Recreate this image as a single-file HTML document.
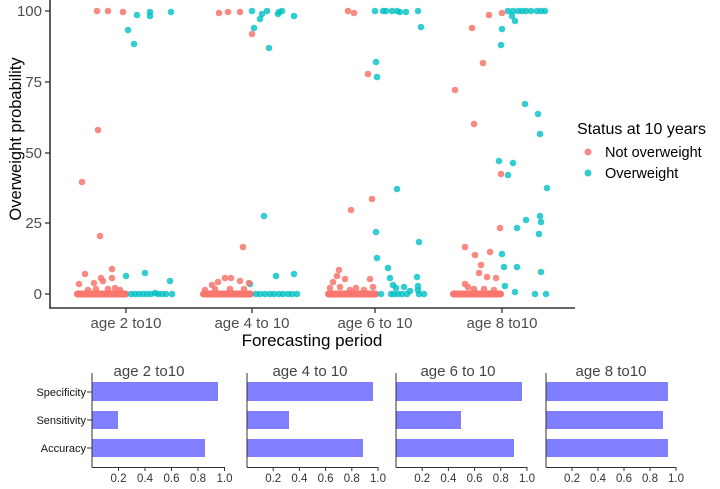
<!DOCTYPE html>
<html><head><meta charset="utf-8"><style>
html,body{margin:0;padding:0;background:#fff;}
svg{display:block;font-family:"Liberation Sans",Arial,sans-serif;}
</style></head><body>
<svg width="720" height="489" viewBox="0 0 720 489" xmlns="http://www.w3.org/2000/svg">
<!-- top axes -->
<line x1="50" y1="0" x2="50" y2="308.5" stroke="#333" stroke-width="1.6"/>
<line x1="49.2" y1="308" x2="575" y2="308" stroke="#333" stroke-width="1.6"/>
<g stroke="#333" stroke-width="1.3">
<line x1="45" y1="11" x2="50" y2="11"/><line x1="45" y1="82" x2="50" y2="82"/><line x1="45" y1="153" x2="50" y2="153"/><line x1="45" y1="223" x2="50" y2="223"/><line x1="45" y1="294" x2="50" y2="294"/>
<line x1="126" y1="308" x2="126" y2="313"/><line x1="252" y1="308" x2="252" y2="313"/><line x1="375" y1="308" x2="375" y2="313"/><line x1="502" y1="308" x2="502" y2="313"/>
</g>
<g fill="#4d4d4d" font-size="15" text-anchor="end">
<text x="42" y="16">100</text><text x="42" y="87">75</text><text x="42" y="158">50</text><text x="42" y="228">25</text><text x="42" y="299">0</text>
</g>
<g fill="#4d4d4d" font-size="15" text-anchor="middle">
<text x="126" y="328">age 2 to10</text><text x="252" y="328">age 4 to 10</text><text x="375" y="328">age 6 to 10</text><text x="502" y="328">age 8 to10</text>
</g>
<text x="312" y="346" font-size="17" text-anchor="middle" fill="#000">Forecasting period</text>
<text transform="translate(21,139) rotate(-90)" font-size="16.5" text-anchor="middle" fill="#000">Overweight probability</text>

<!-- red clusters -->
<g fill="#F8766D">
<rect x="74" y="290.5" width="55" height="7" rx="3.5"/>
<rect x="200" y="290.5" width="54" height="7" rx="3.5"/>
<rect x="325" y="290.5" width="54" height="7" rx="3.5"/>
<rect x="450" y="290.5" width="54" height="7" rx="3.5"/>
</g>
<!-- teal points -->
<g fill="#00BFC4" fill-opacity="0.8">
<circle cx="128" cy="30" r="3.3"/><circle cx="134" cy="44" r="3.3"/><circle cx="137" cy="15" r="3.3"/><circle cx="150" cy="12" r="3.3"/><circle cx="150" cy="16" r="3.3"/><circle cx="171" cy="12" r="3.3"/><circle cx="126" cy="276" r="3.3"/><circle cx="145" cy="273" r="3.3"/><circle cx="170" cy="281" r="3.3"/>
<circle cx="131" cy="294" r="3.3"/><circle cx="135" cy="294" r="3.3"/><circle cx="139" cy="294" r="3.3"/><circle cx="143" cy="294" r="3.3"/><circle cx="147" cy="294" r="3.3"/><circle cx="151" cy="294" r="3.3"/><circle cx="155" cy="293" r="3.3"/><circle cx="158" cy="294" r="3.3"/><circle cx="162" cy="294" r="3.3"/><circle cx="166" cy="294" r="3.3"/><circle cx="172" cy="294" r="3.3"/>
<circle cx="252" cy="11" r="3.3"/><circle cx="254" cy="28" r="3.3"/><circle cx="260" cy="19" r="3.3"/><circle cx="262" cy="14" r="3.3"/><circle cx="267" cy="11" r="3.3"/><circle cx="269" cy="48" r="3.3"/><circle cx="278" cy="14" r="3.3"/><circle cx="279" cy="12" r="3.3"/><circle cx="282" cy="11" r="3.3"/><circle cx="294" cy="16" r="3.3"/><circle cx="264" cy="216" r="3.3"/><circle cx="276" cy="276" r="3.3"/><circle cx="294" cy="274" r="3.3"/><circle cx="250" cy="284" r="3.3"/>
<circle cx="256" cy="294" r="3.3"/><circle cx="260" cy="294" r="3.3"/><circle cx="265" cy="294" r="3.3"/><circle cx="270" cy="294" r="3.3"/><circle cx="274" cy="294" r="3.3"/><circle cx="279" cy="294" r="3.3"/><circle cx="283" cy="294" r="3.3"/><circle cx="288" cy="294" r="3.3"/><circle cx="292" cy="294" r="3.3"/><circle cx="297" cy="294" r="3.3"/>
<circle cx="375" cy="11" r="3.3"/><circle cx="383" cy="11" r="3.3"/><circle cx="386" cy="11" r="3.3"/><circle cx="392" cy="11" r="3.3"/><circle cx="397" cy="11" r="3.3"/><circle cx="400" cy="12" r="3.3"/><circle cx="406" cy="12" r="3.3"/><circle cx="418" cy="11" r="3.3"/><circle cx="421" cy="27" r="3.3"/><circle cx="376" cy="62" r="3.3"/><circle cx="377" cy="77" r="3.3"/><circle cx="397" cy="189" r="3.3"/><circle cx="376" cy="232" r="3.3"/><circle cx="419" cy="242" r="3.3"/><circle cx="377" cy="258" r="3.3"/><circle cx="388" cy="268" r="3.3"/><circle cx="390" cy="278" r="3.3"/><circle cx="417" cy="277" r="3.3"/><circle cx="393" cy="285" r="3.3"/><circle cx="396" cy="288" r="3.3"/><circle cx="404" cy="287" r="3.3"/><circle cx="410" cy="291" r="3.3"/><circle cx="418" cy="290" r="3.3"/><circle cx="418" cy="286" r="3.3"/>
<circle cx="381" cy="294" r="3.3"/><circle cx="391" cy="294" r="3.3"/><circle cx="394" cy="294" r="3.3"/><circle cx="398" cy="294" r="3.3"/><circle cx="402" cy="294" r="3.3"/><circle cx="407" cy="294" r="3.3"/><circle cx="419" cy="294" r="3.3"/><circle cx="424" cy="294" r="3.3"/>
<circle cx="508" cy="11" r="3.3"/><circle cx="513" cy="11" r="3.3"/><circle cx="518" cy="11" r="3.3"/><circle cx="522" cy="11" r="3.3"/><circle cx="526" cy="11" r="3.3"/><circle cx="531" cy="11" r="3.3"/><circle cx="537" cy="11" r="3.3"/><circle cx="541" cy="11" r="3.3"/><circle cx="545" cy="11" r="3.3"/><circle cx="512" cy="16" r="3.3"/><circle cx="515" cy="21" r="3.3"/><circle cx="502" cy="29" r="3.3"/><circle cx="501" cy="45" r="3.3"/><circle cx="525" cy="104" r="3.3"/><circle cx="538" cy="114" r="3.3"/><circle cx="540" cy="134" r="3.3"/><circle cx="499" cy="161" r="3.3"/><circle cx="513" cy="163" r="3.3"/><circle cx="508" cy="175" r="3.3"/><circle cx="547" cy="188" r="3.3"/><circle cx="540" cy="216" r="3.3"/><circle cx="541" cy="222" r="3.3"/><circle cx="526" cy="220" r="3.3"/><circle cx="517" cy="228" r="3.3"/><circle cx="539" cy="234" r="3.3"/><circle cx="502" cy="254" r="3.3"/><circle cx="504" cy="267" r="3.3"/><circle cx="517" cy="267" r="3.3"/><circle cx="541" cy="272" r="3.3"/><circle cx="505" cy="286" r="3.3"/><circle cx="515" cy="292" r="3.3"/><circle cx="535" cy="294" r="3.3"/><circle cx="546" cy="294" r="3.3"/>
</g>
<!-- red points -->
<g fill="#F8766D" fill-opacity="0.85">
<circle cx="97" cy="11" r="3.3"/><circle cx="108" cy="11" r="3.3"/><circle cx="123" cy="12" r="3.3"/><circle cx="98" cy="130" r="3.3"/><circle cx="82" cy="182" r="3.3"/><circle cx="100" cy="236" r="3.3"/><circle cx="79" cy="284" r="3.3"/><circle cx="85" cy="274" r="3.3"/><circle cx="94" cy="283" r="3.3"/><circle cx="101" cy="278" r="3.3"/><circle cx="103" cy="281" r="3.3"/><circle cx="112" cy="269" r="3.3"/><circle cx="112" cy="278" r="3.3"/><circle cx="88" cy="290" r="3.3"/><circle cx="96" cy="289" r="3.3"/><circle cx="108" cy="289" r="3.3"/><circle cx="115" cy="288" r="3.3"/><circle cx="120" cy="290" r="3.3"/>
<circle cx="219" cy="13" r="3.3"/><circle cx="228" cy="12" r="3.3"/><circle cx="240" cy="12" r="3.3"/><circle cx="252" cy="34" r="3.3"/><circle cx="243" cy="247" r="3.3"/><circle cx="212" cy="285" r="3.3"/><circle cx="218" cy="282" r="3.3"/><circle cx="225" cy="278" r="3.3"/><circle cx="231" cy="278" r="3.3"/><circle cx="240" cy="281" r="3.3"/><circle cx="249" cy="283" r="3.3"/><circle cx="205" cy="290" r="3.3"/><circle cx="215" cy="289" r="3.3"/><circle cx="230" cy="289" r="3.3"/><circle cx="244" cy="289" r="3.3"/>
<circle cx="348" cy="11" r="3.3"/><circle cx="354" cy="13" r="3.3"/><circle cx="368" cy="74" r="3.3"/><circle cx="351" cy="210" r="3.3"/><circle cx="372" cy="199" r="3.3"/><circle cx="339" cy="270" r="3.3"/><circle cx="337" cy="276" r="3.3"/><circle cx="345" cy="279" r="3.3"/><circle cx="370" cy="279" r="3.3"/><circle cx="333" cy="282" r="3.3"/><circle cx="330" cy="288" r="3.3"/><circle cx="340" cy="287" r="3.3"/><circle cx="350" cy="290" r="3.3"/><circle cx="356" cy="288" r="3.3"/><circle cx="364" cy="290" r="3.3"/><circle cx="373" cy="287" r="3.3"/>
<circle cx="489" cy="15" r="3.3"/><circle cx="502" cy="13" r="3.3"/><circle cx="472" cy="28" r="3.3"/><circle cx="483" cy="63" r="3.3"/><circle cx="455" cy="90" r="3.3"/><circle cx="474" cy="124" r="3.3"/><circle cx="501" cy="174" r="3.3"/><circle cx="500" cy="228" r="3.3"/><circle cx="465" cy="247" r="3.3"/><circle cx="475" cy="255" r="3.3"/><circle cx="490" cy="252" r="3.3"/><circle cx="481" cy="265" r="3.3"/><circle cx="479" cy="273" r="3.3"/><circle cx="487" cy="277" r="3.3"/><circle cx="496" cy="278" r="3.3"/><circle cx="465" cy="284" r="3.3"/><circle cx="468" cy="287" r="3.3"/><circle cx="474" cy="289" r="3.3"/><circle cx="484" cy="289" r="3.3"/><circle cx="494" cy="290" r="3.3"/>
</g>

<!-- legend -->
<text x="577" y="134" font-size="16" fill="#000">Status at 10 years</text>
<circle cx="588" cy="152" r="3.5" fill="#F8766D" fill-opacity="0.85"/>
<circle cx="588" cy="173" r="3.5" fill="#00BFC4" fill-opacity="0.8"/>
<text x="605" y="157" font-size="14.5" fill="#000">Not overweight</text>
<text x="605" y="178" font-size="14.5" fill="#000">Overweight</text>

<!-- bottom panels -->
<g fill="#7f7fff">
<rect x="92" y="382" width="126" height="19"/><rect x="92" y="411" width="26" height="18"/><rect x="92" y="439" width="113" height="18"/>
<rect x="247" y="382" width="126" height="19"/><rect x="247" y="411" width="42" height="18"/><rect x="247" y="439" width="116" height="18"/>
<rect x="396" y="382" width="126" height="19"/><rect x="396" y="411" width="65" height="18"/><rect x="396" y="439" width="118" height="18"/>
<rect x="546" y="382" width="122" height="19"/><rect x="546" y="411" width="117" height="18"/><rect x="546" y="439" width="122" height="18"/>
</g>
<g stroke="#333" stroke-width="1">
<line x1="92" y1="373" x2="92" y2="467.5"/><line x1="92" y1="467.5" x2="224.5" y2="467.5"/>
<line x1="87" y1="392" x2="92" y2="392"/><line x1="87" y1="420" x2="92" y2="420"/><line x1="87" y1="448" x2="92" y2="448"/>
<line x1="118.5" y1="467" x2="118.5" y2="471"/><line x1="145" y1="467" x2="145" y2="471"/><line x1="171.5" y1="467" x2="171.5" y2="471"/><line x1="198" y1="467" x2="198" y2="471"/><line x1="224.5" y1="467" x2="224.5" y2="471"/>
<line x1="247" y1="373" x2="247" y2="467.5"/><line x1="247" y1="467.5" x2="378" y2="467.5"/>
<line x1="273.2" y1="467" x2="273.2" y2="471"/><line x1="299.4" y1="467" x2="299.4" y2="471"/><line x1="325.6" y1="467" x2="325.6" y2="471"/><line x1="351.8" y1="467" x2="351.8" y2="471"/><line x1="378" y1="467" x2="378" y2="471"/>
<line x1="396" y1="373" x2="396" y2="467.5"/><line x1="396" y1="467.5" x2="527" y2="467.5"/>
<line x1="422.2" y1="467" x2="422.2" y2="471"/><line x1="448.4" y1="467" x2="448.4" y2="471"/><line x1="474.6" y1="467" x2="474.6" y2="471"/><line x1="500.8" y1="467" x2="500.8" y2="471"/><line x1="527" y1="467" x2="527" y2="471"/>
<line x1="546" y1="373" x2="546" y2="467.5"/><line x1="546" y1="467.5" x2="676" y2="467.5"/>
<line x1="572" y1="467" x2="572" y2="471"/><line x1="598" y1="467" x2="598" y2="471"/><line x1="624" y1="467" x2="624" y2="471"/><line x1="650" y1="467" x2="650" y2="471"/><line x1="676" y1="467" x2="676" y2="471"/>
</g>
<g font-size="11" fill="#111" text-anchor="end">
<text x="86" y="396">Specificity</text><text x="86" y="424">Sensitivity</text><text x="86" y="452">Accuracy</text>
</g>
<g font-size="15" fill="#444" text-anchor="middle">
<text x="149" y="376">age 2 to10</text><text x="310" y="376">age 4 to 10</text><text x="458" y="376">age 6 to 10</text><text x="611" y="376">age 8 to10</text>
</g>
<g font-size="11.5" fill="#333" text-anchor="middle">
<text x="118.5" y="482">0.2</text><text x="145" y="482">0.4</text><text x="171.5" y="482">0.6</text><text x="198" y="482">0.8</text><text x="224.5" y="482">1.0</text>
<text x="273.2" y="482">0.2</text><text x="299.4" y="482">0.4</text><text x="325.6" y="482">0.6</text><text x="351.8" y="482">0.8</text><text x="378" y="482">1.0</text>
<text x="422.2" y="482">0.2</text><text x="448.4" y="482">0.4</text><text x="474.6" y="482">0.6</text><text x="500.8" y="482">0.8</text><text x="527" y="482">1.0</text>
<text x="572" y="482">0.2</text><text x="598" y="482">0.4</text><text x="624" y="482">0.6</text><text x="650" y="482">0.8</text><text x="676" y="482">1.0</text>
</g>
</svg>
</body></html>
